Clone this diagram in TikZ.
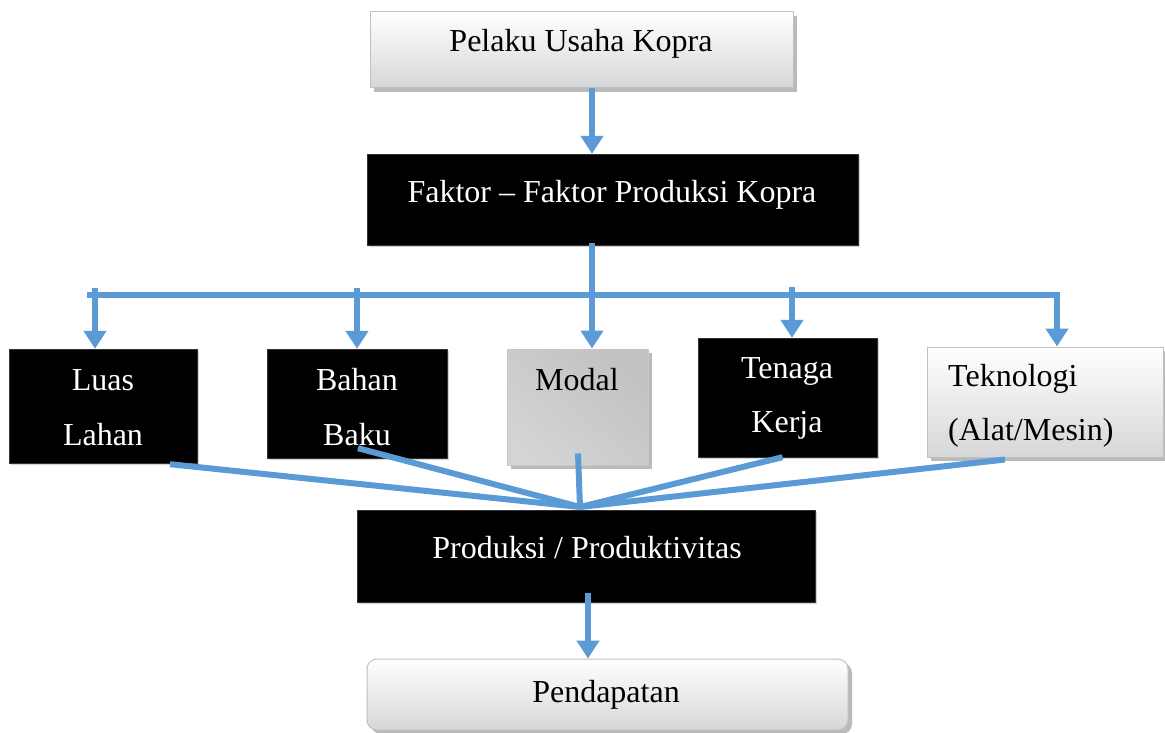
\documentclass[tikz,border=0pt]{standalone}
\usepackage{fontspec}
\setmainfont{Liberation Serif}
\usetikzlibrary{arrows.meta,shadows,calc}
\definecolor{flowblue}{RGB}{91,155,213}
\tikzset{
  boxbase/.style={rectangle,inner sep=0pt,anchor=center},
  darkbox/.style={boxbase,fill=black,draw=black!80,drop shadow={shadow xshift=2pt,shadow yshift=-2pt,opacity=0.35}},
  lightbox/.style={boxbase,draw=black!25,line width=1pt,top color=white,bottom color=black!16,drop shadow={shadow xshift=4pt,shadow yshift=-4pt,fill=black!45,opacity=0.6}},
  greybox/.style={boxbase,draw=black!22,line width=1pt,shading=axis,top color=black!24,middle color=black!6,bottom color=black!17,shading angle=-40,drop shadow={shadow xshift=4pt,shadow yshift=-4pt,fill=black!45,opacity=0.6}},
  txt/.style={font=\fontsize{32}{38}\selectfont,anchor=base,inner sep=0pt},
  wtxt/.style={txt,text=white},
  flow/.style={draw=flowblue,line width=6pt},
  arr/.style={flow,-{Triangle[width=22pt,length=18pt]}},
}
\begin{document}
\begin{tikzpicture}[x=1pt,y=-1pt]
\useasboundingbox (0,0) rectangle (1165,733);
% boxes
\node[lightbox,minimum width=423pt,minimum height=76pt] (pelaku) at (581.5,50) {};
\node[darkbox,minimum width=491pt,minimum height=91pt] (faktor) at (612.5,199.5) {};
\node[darkbox,minimum width=188pt,minimum height=114pt] (luas) at (103,406) {};
\node[darkbox,minimum width=180pt,minimum height=109pt] (bahan) at (357,403.5) {};
\node[greybox,minimum width=141pt,minimum height=116pt] (modal) at (577.5,407) {};
\node[darkbox,minimum width=179pt,minimum height=119pt] (tenaga) at (787.5,397.5) {};
\node[lightbox,minimum width=236pt,minimum height=110pt] (tekno) at (1045,402) {};
\node[darkbox,minimum width=458pt,minimum height=92pt] (produksi) at (586,556) {};
\node[lightbox,rounded corners=10pt,minimum width=481pt,minimum height=71pt] (pendapatan) at (607.5,694.5) {};
% texts
\node[txt] (pelakuT) at (581,52) {Pelaku Usaha Kopra};
\node[wtxt] (faktorT) at (612,202) {Faktor -- Faktor Produksi Kopra};
\node[wtxt] (luasT1) at (103,390) {Luas};
\node[wtxt] (luasT2) at (103,445) {Lahan};
\node[wtxt] (bahanT1) at (357,390) {Bahan};
\node[wtxt] (bahanT2) at (357,445) {Baku};
\node[txt] (modalT) at (577,390) {Modal};
\node[wtxt] (tenagaT1) at (787,378) {Tenaga};
\node[wtxt] (tenagaT2) at (787,432) {Kerja};
\node[txt,anchor=base west] (teknoT1) at (948,386) {Teknologi};
\node[txt,anchor=base west] (teknoT2) at (948,440) {(Alat/Mesin)};
\node[wtxt] (produksiT) at (587,558) {Produksi / Produktivitas};
\node[txt] (pendapatanT) at (606,702) {Pendapatan};
% junction coordinates
\coordinate (cx) at (592,0);
\coordinate (barL) at (90,295);
\coordinate (barR) at (1057,295);
\coordinate (luasX) at (95,288);
\coordinate (bahanX) at (357,288);
\coordinate (tenagaX) at (792,287);
\coordinate (conv) at (580,507);
\coordinate (px) at (588,0);
% connectors
\draw[arr] (pelaku.south -| cx) -- (faktor.north -| cx);
\draw[arr] ([yshift=2pt]faktor.south -| cx) -- (modal.north -| cx);
\draw[flow,line cap=rect] (barL) -- (barR);
\draw[arr] (barR) -- (tekno.north -| barR);
\draw[arr] (luasX) -- (luas.north -| luasX);
\draw[arr] (bahanX) -- (bahan.north -| bahanX);
\draw[arr] (tenagaX) -- (tenaga.north -| tenagaX);
\draw[flow] ([xshift=67pt,yshift=-1pt]luas.south) -- (conv);
\draw[flow] ([xshift=1pt,yshift=10pt]bahan.south) -- (conv);
\draw[flow] ([xshift=0.5pt,yshift=12pt]modal.south) -- (conv);
\draw[flow] ([xshift=-5pt]tenaga.south) -- (conv);
\draw[flow] ([xshift=-40pt,yshift=-2pt]tekno.south) -- (conv);
\draw[arr] ([yshift=9pt]produksi.south -| px) -- (pendapatan.north -| px);
\end{tikzpicture}
\end{document}
